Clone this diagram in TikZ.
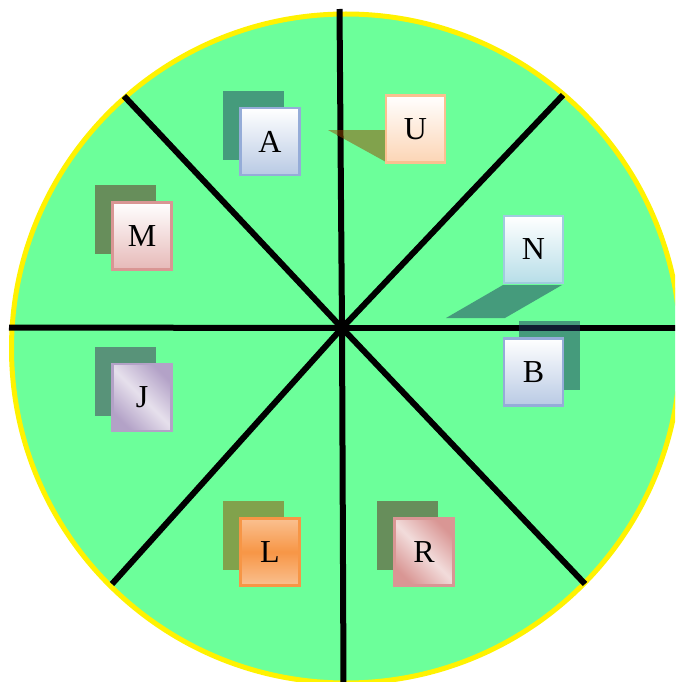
\documentclass[tikz,border=0pt]{standalone}
\usepackage{fontspec}
\setmainfont{Liberation Serif}
\begin{document}
\begin{tikzpicture}[x=1pt,y=-1pt,
  spoke/.style={line width=6pt,black},
  card/.style={rectangle,line width=2.5pt,minimum width=59pt,minimum height=67pt,inner sep=0pt,font=\fontsize{32}{32}\selectfont},
  sh/.style={opacity=0.5}]
\definecolor{disc}{RGB}{108,255,154}
\definecolor{shblue}{RGB}{32,56,96}
\definecolor{shorange}{RGB}{150,70,0}
\definecolor{shpink}{RGB}{100,30,30}
\definecolor{shpurple}{RGB}{70,40,90}
\definecolor{bdblue}{RGB}{149,172,216}
\definecolor{fiblue}{RGB}{185,202,228}
\definecolor{bdpeach}{RGB}{250,192,144}
\definecolor{fipeach}{RGB}{252,213,181}
\definecolor{bdcyan}{RGB}{160,204,222}
\definecolor{ficyan}{RGB}{183,222,232}
\definecolor{bdpink}{RGB}{217,150,148}
\definecolor{fipink}{RGB}{230,185,184}
\definecolor{lipink}{RGB}{242,220,219}
\definecolor{bdpurple}{RGB}{179,162,199}
\definecolor{lipurple}{RGB}{230,224,236}
\definecolor{bdorange}{RGB}{247,150,70}
\definecolor{liorange}{RGB}{250,192,144}
\useasboundingbox (0,0) rectangle (675,682);
\clip (0,0) rectangle (675,682);
% disc
\draw[yellow,line width=5pt,fill=disc] (346,348.5) circle[radius=334.5pt];
% spokes
\coordinate (H) at (342,328);
\coordinate (pT) at (339.5,9);
\coordinate (pB) at (343.5,684);
\coordinate (pL) at (9,327.5);
\coordinate (pR) at (684,328);
\coordinate (pUL) at (124,96);
\coordinate (pUR) at (563,95);
\coordinate (pLL) at (112,584);
\coordinate (pLR) at (585,584);
\foreach \p in {pT,pB,pL,pR,pUL,pUR,pLL,pLR} \draw[spoke] (H) -- (\p);
% shadows
\fill[sh,shblue] (223,91) rectangle (284,160);
\fill[sh,shorange] (328,130) -- (386,130) -- (386,162) -- cycle;
\fill[sh,shblue] (446,318) -- (505,318) -- (562,285) -- (503,285) -- cycle;
\fill[sh,shblue] (519,321) rectangle (580,390);
\fill[sh,shpink] (95,185) rectangle (156,254);
\fill[sh,shpurple] (95,347) rectangle (156,416);
\fill[sh,shorange] (223,501) rectangle (284,570);
\fill[sh,shpink] (377,501) rectangle (438,570);
% cards
\node[card,draw=bdblue,top color=white,bottom color=fiblue] (A) at (270,141.5) {A};
\node[card,draw=bdpeach,top color=white,bottom color=fipeach] (U) at (415.5,129) {U};
\node[card,draw=bdcyan,top color=white,bottom color=ficyan] (N) at (533.5,249.5) {N};
\node[card,draw=bdblue,top color=white,bottom color=fiblue] (B) at (533.5,372) {B};
\node[card,draw=bdpink,top color=white,bottom color=fipink] (M) at (142,236) {M};
\node[card,draw=bdpurple,top color=bdpurple,bottom color=bdpurple,middle color=lipurple,shading angle=-45] (J) at (142,397.5) {J};
\node[card,draw=bdorange,top color=liorange,bottom color=liorange,middle color=bdorange] (L) at (270,552) {L};
\node[card,draw=bdpink,top color=bdpink,bottom color=bdpink,middle color=lipink,shading angle=-45] (R) at (424,552) {R};
\end{tikzpicture}
\end{document}
